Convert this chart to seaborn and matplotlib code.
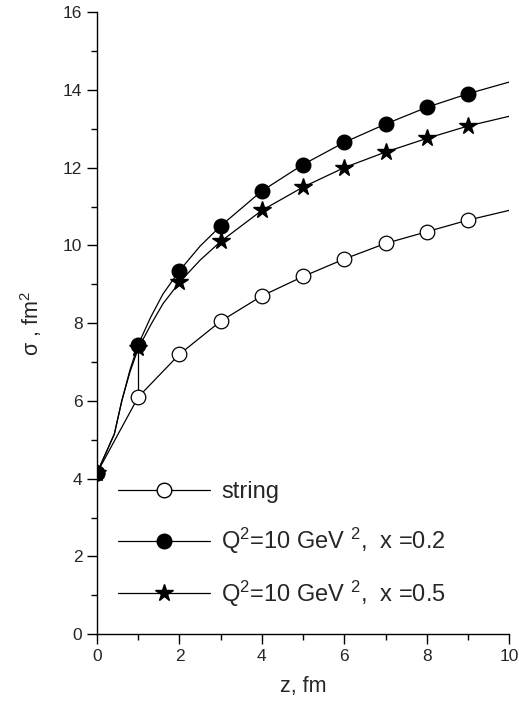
import numpy as np
import pandas as pd
import seaborn as sns
import matplotlib.pyplot as plt
from matplotlib.lines import Line2D

# DATI
z = [0, 1, 2, 3, 4, 5, 6, 7, 8, 9]
sigma_string = [4.15, 6.1, 7.2, 8.05, 8.7, 9.2, 9.65, 10.05, 10.35, 10.65]
sigma_x02 = [4.15, 7.45, 9.35, 10.5, 11.4, 12.08, 12.65, 13.12, 13.55, 13.9]
sigma_x05 = [4.15, 7.35, 9.05, 10.1, 10.9, 11.5, 12.0, 12.4, 12.75, 13.07]

# curve continue (fit), fino a z=10
curve_z_string = [0, 1, 2, 3, 4, 5, 6, 7, 8, 9, 10]
curve_string = [4.15, 6.1, 7.2, 8.05, 8.7, 9.2, 9.65, 10.05, 10.35, 10.65, 10.9]
curve_z_fit = [0, 0.42, 0.6, 0.8, 1, 1.3, 1.6, 2, 2.5, 3, 4, 5, 6, 7, 8, 9, 10]
curve_x02 = [4.15, 5.15, 6.0, 6.8, 7.45, 8.15, 8.75, 9.35, 9.98, 10.5, 11.4, 12.08, 12.65, 13.12, 13.55, 13.9, 14.2]
curve_x05 = [4.15, 5.15, 6.0, 6.75, 7.35, 7.95, 8.5, 9.05, 9.62, 10.1, 10.9, 11.5, 12.0, 12.4, 12.75, 13.07, 13.32]
jump_z = [1, 1]
jump_s = [6.1, 7.4]

labels = ["string", r"Q$^2$=10 GeV $^2$,  x =0.2", r"Q$^2$=10 GeV $^2$,  x =0.5"]

sns.set_style("ticks")
plt.rcParams['font.family'] = ['Liberation Sans', 'DejaVu Sans']
plt.rcParams['mathtext.default'] = 'regular'

fig = plt.figure(figsize=(5.19, 7.11), dpi=100)
ax = fig.add_axes([0.187, 0.108, 0.794, 0.875])

# CURVE
sns.lineplot(x=curve_z_string, y=curve_string, color='black', lw=0.9, ax=ax)
sns.lineplot(x=curve_z_fit, y=curve_x02, color='black', lw=0.9, ax=ax)
sns.lineplot(x=curve_z_fit, y=curve_x05, color='black', lw=0.9, ax=ax)
ax.plot(jump_z, jump_s, color='black', lw=0.9)

# PUNTI
ax.plot(z, sigma_string, ls='', marker='o', ms=10.5, mfc='white', mec='black', mew=0.9, zorder=3)
ax.plot(z, sigma_x05, ls='', marker='*', ms=13, mfc='black', mec='black', zorder=3)
ax.plot(z, sigma_x02, ls='', marker='o', ms=10.5, mfc='black', mec='black', zorder=4)

handles = [
    Line2D([], [], color='black', lw=0.9, marker='o', ms=10.5, mfc='white', mec='black'),
    Line2D([], [], color='black', lw=0.9, marker='o', ms=10.5, mfc='black', mec='black'),
    Line2D([], [], color='black', lw=0.9, marker='*', ms=13, mfc='black', mec='black'),
]
ax.legend(handles, labels, loc='upper left', bbox_to_anchor=(0.0, 0.28), frameon=False,
          handlelength=3.9, handletextpad=0.45, labelspacing=0.95, fontsize=17)

ax.set_xlim(0, 10)
ax.set_ylim(0, 16)
ax.set_xticks(range(0, 11, 2))
ax.set_yticks(range(0, 17, 2))
ax.set_xticks(range(1, 10, 2), minor=True)
ax.set_yticks(range(1, 16, 2), minor=True)
ax.tick_params(which='major', direction='out', length=7, width=1, labelsize=12.5, color='black')
ax.tick_params(which='minor', direction='out', length=4, width=1, color='black')
for s in ['left', 'bottom']:
    ax.spines[s].set_color('black')
    ax.spines[s].set_linewidth(1)
sns.despine(ax=ax)
ax.set_xlabel('z, fm', fontsize=15.5, labelpad=9)
ax.set_ylabel(r'σ , fm$^2$', fontsize=15.5, labelpad=14)

fig.savefig("out.png", dpi=100)
plt.close()
